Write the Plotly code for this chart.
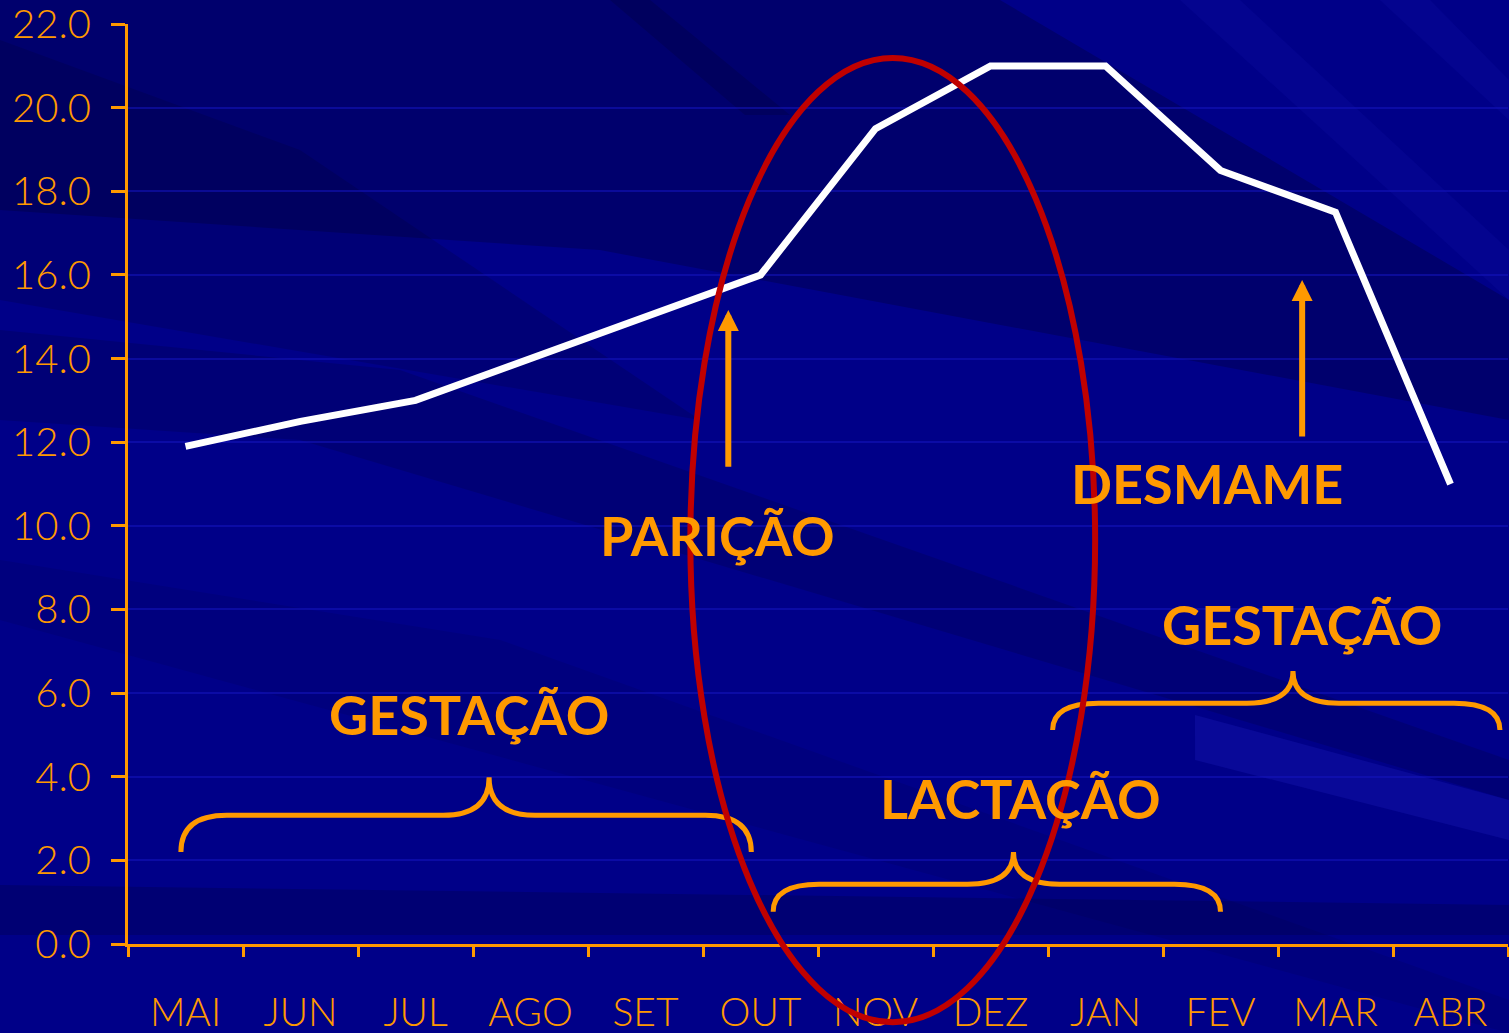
import plotly.graph_objects as go

# ---- data -------------------------------------------------------------
months = ["MAI", "JUN", "JUL", "AGO", "SET", "OUT",
          "NOV", "DEZ", "JAN", "FEV", "MAR", "ABR"]
values = [11.9, 12.5, 13.0, 14.0, 15.0, 16.0,
          19.5, 21.0, 21.0, 18.5, 17.5, 11.0]
y_ticks = [0, 2, 4, 6, 8, 10, 12, 14, 16, 18, 20, 22]

ORANGE = "#FF9900"
NAVY = "#000088"
FONT = "Lato"

W, H = 1509, 1033
M_L, M_R, M_T, M_B = 128, 1, 24, 89
X_RANGE = [-0.5, len(months) - 0.5]
Y_RANGE = [0, 22.002]


def to_paper(x, y):
    """data coords (category index, value) -> paper coords"""
    px = (x - X_RANGE[0]) / (X_RANGE[1] - X_RANGE[0])
    py = (y - Y_RANGE[0]) / (Y_RANGE[1] - Y_RANGE[0])
    return px, py


def pix_to_paper(X, Y):
    """page pixel coords -> paper coords (for background decoration)"""
    pw = W - M_L - M_R
    ph = H - M_T - M_B
    return (X - M_L) / pw, (H - M_B - Y) / ph


fig = go.Figure()

fig.add_trace(go.Scatter(
    x=months, y=values, mode="lines",
    line=dict(color="white", width=7),
    hoverinfo="skip", showlegend=False,
))

shapes = []

# ---- background streaks ------------------------------------------------
bands = [
    ([(0, 0), (1000, 0), (1509, 300), (1509, 420), (600, 250), (0, 210)], "rgba(0,0,40,0.28)"),
    ([(0, 330), (400, 370), (1509, 760), (1509, 800), (300, 440), (0, 420)], "rgba(0,0,40,0.18)"),
    ([(0, 40), (300, 150), (700, 420), (0, 300)], "rgba(0,0,40,0.18)"),
    ([(0, 885), (1509, 905), (1509, 935), (0, 935)], "rgba(0,0,40,0.22)"),
    ([(1195, 715), (1509, 800), (1509, 840), (1195, 760)], "rgba(40,40,210,0.22)"),
    ([(1180, 0), (1240, 0), (1509, 250), (1509, 300)], "rgba(20,20,180,0.18)"),
    ([(1380, 0), (1430, 0), (1509, 80), (1509, 120)], "rgba(20,20,180,0.18)"),
    ([(610, 0), (650, 0), (790, 115), (745, 115)], "rgba(0,0,40,0.22)"),
    ([(0, 560), (500, 640), (1509, 1000), (1509, 1033), (0, 620)], "rgba(0,0,40,0.10)"),
]
for pts, col in bands:
    path = "M " + " L ".join("{:.4f},{:.4f}".format(*pix_to_paper(X, Y)) for X, Y in pts) + " Z"
    shapes.append(dict(type="path", xref="paper", yref="paper", path=path,
                       fillcolor=col, line=dict(width=0), layer="below"))

# ---- curly braces marking the reproductive phases -----------------------
# (left x, tip x, right x, base y, top y, tip y)
braces = [
    (-0.04, 2.64, 4.92, 2.2, 3.08, 3.99),
    (5.11, 7.20, 9.00, 0.77, 1.43, 2.20),
    (7.54, 9.63, 11.43, 5.12, 5.76, 6.53),
]
R = 0.4
for xl, xt, xr, yb, yt, yp in braces:
    P = lambda x, y: "{:.4f},{:.4f}".format(x, y)
    path = (f"M {P(xl, yb)} Q {P(xl, yt)} {P(xl + R, yt)} L {P(xt - R, yt)} "
            f"Q {P(xt, yt)} {P(xt, yp)} Q {P(xt, yt)} {P(xt + R, yt)} "
            f"L {P(xr - R, yt)} Q {P(xr, yt)} {P(xr, yb)}")
    shapes.append(dict(type="path", xref="x", yref="y", path=path,
                       line=dict(color=ORANGE, width=5), layer="above"))

# ---- red ellipse around the calving / lactation peak --------------------
ex0, ey0 = to_paper(4.39, -1.87)
ex1, ey1 = to_paper(7.91, 21.19)
shapes.append(dict(type="circle", xref="paper", yref="paper",
                   x0=ex0, y0=ey0, x1=ex1, y1=ey1,
                   line=dict(color="#C00000", width=6), layer="above"))

annotations = []
labels = [
    ("GESTAÇÃO", 2.47, 5.48),
    ("PARIÇÃO", 4.63, 9.78),
    ("DESMAME", 8.88, 11.02),
    ("GESTAÇÃO", 9.71, 7.63),
    ("LACTAÇÃO", 7.26, 3.49),
]
for txt, x, y in labels:
    annotations.append(dict(text=txt, x=x, y=y, xref="x", yref="y",
                            showarrow=False,
                            font=dict(family=FONT, size=54, color=ORANGE, weight="bold")))

# arrows: (x, tail y, head y)
arrows = [(4.72, 11.38, 15.16), (9.71, 12.1, 15.88)]
for x, y0, y1 in arrows:
    annotations.append(dict(text="", x=x, y=y1, ax=x, ay=y0,
                            xref="x", yref="y", axref="x", ayref="y",
                            showarrow=True, arrowhead=2, arrowsize=0.7,
                            arrowwidth=6, arrowcolor=ORANGE))

fig.update_layout(
    width=W, height=H,
    margin=dict(l=M_L, r=M_R, t=M_T, b=M_B),
    paper_bgcolor=NAVY, plot_bgcolor="rgba(0,0,0,0)",
    shapes=shapes, annotations=annotations,
    showlegend=False,
    xaxis=dict(
        type="category", categoryorder="array", categoryarray=months,
        range=X_RANGE, tickson="boundaries", automargin=False,
        ticks="outside", ticklen=10, tickwidth=3, tickcolor=ORANGE,
        showline=True, linecolor=ORANGE, linewidth=3,
        showgrid=False, zeroline=False,
        tickfont=dict(family=FONT, size=39, color=ORANGE, weight=300),
        ticklabelstandoff=32,
    ),
    yaxis=dict(
        range=Y_RANGE, tickvals=y_ticks, tickformat=".1f", automargin=False,
        ticks="outside", ticklen=14, tickwidth=3, tickcolor=ORANGE,
        showline=True, linecolor=ORANGE, linewidth=3,
        showgrid=True, gridcolor="rgba(20,20,190,0.55)", gridwidth=2,
        zeroline=False,
        tickfont=dict(family=FONT, size=40, color=ORANGE, weight=300),
        ticklabelstandoff=12,
        ticklabeloverflow="allow",
    ),
)

fig.write_html("out.html")
